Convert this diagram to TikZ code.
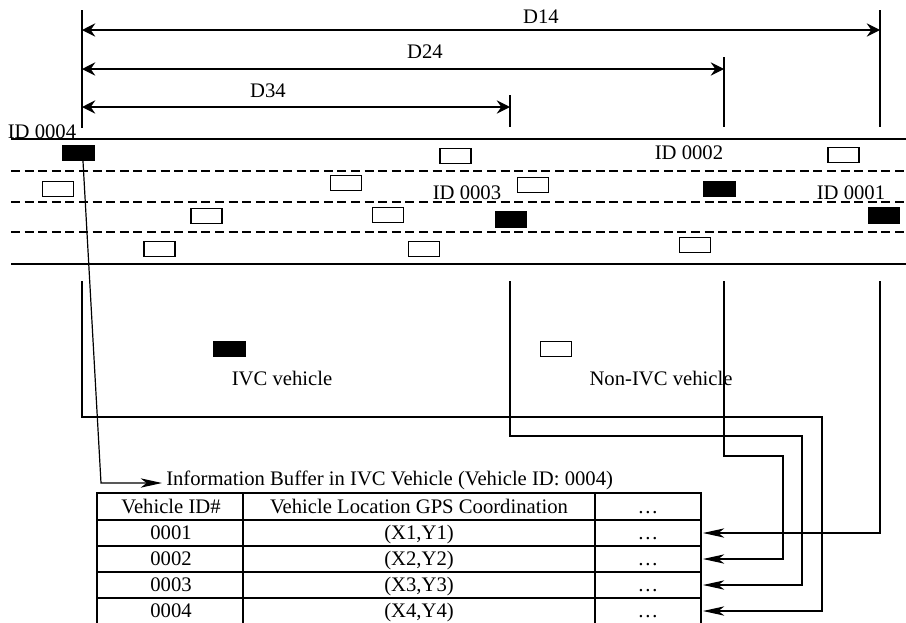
\documentclass[tikz,border=0pt]{standalone}
\usepackage{fontspec}
\setmainfont{Liberation Serif}
\usetikzlibrary{arrows.meta,calc}
\begin{document}
\begin{tikzpicture}[x=0.75pt,y=-0.75pt,
  every node/.style={font=\fontsize{15.5}{18}\selectfont,inner sep=0pt},
  txt/.style={anchor=base},
  ivc/.style={draw=black,fill=black,line width=0.8pt,minimum width=23.5pt,minimum height=11.5pt},
  nonivc/.style={draw=black,fill=white,line width=1.1pt,minimum width=23pt,minimum height=11pt},
  road/.style={line width=1.1pt},
  lane/.style={line width=1.9pt,dash pattern=on 6.8pt off 3.4pt},
  dimline/.style={line width=0.9pt},
  dimarrow/.style={line width=0.9pt,{Stealth[length=10pt,width=10pt,inset=3.5pt]}-{Stealth[length=10pt,width=10pt,inset=3.5pt]}},
  routearrow/.style={line width=0.9pt,-{Stealth[length=16pt,width=7pt,inset=4.5pt]}},
  tab/.style={line width=1.5pt}
]
\useasboundingbox (0,0) rectangle (906,622);

% ---------- dimension lines ----------
\coordinate (L0) at (82,10);
\coordinate (L1) at (82,128);
\coordinate (R1t) at (880,10);
\coordinate (R1b) at (880,127);
\coordinate (R2t) at (724,57);
\coordinate (R2b) at (724,127);
\coordinate (R3t) at (510,95);
\coordinate (R3b) at (510,127);
\draw[dimline] (L0) -- (L1);
\draw[dimline] (R1t) -- (R1b);
\draw[dimline] (R2t) -- (R2b);
\draw[dimline] (R3t) -- (R3b);
\coordinate (a14l) at (82,30);  \coordinate (a14r) at (880,30);
\coordinate (a24l) at (82,69);  \coordinate (a24r) at (724,69);
\coordinate (a34l) at (82,107); \coordinate (a34r) at (510,107);
\draw[dimarrow] (a14l) -- (a14r);
\draw[dimarrow] (a24l) -- (a24r);
\draw[dimarrow] (a34l) -- (a34r);
\node[txt] (d14) at (541,23) {D14};
\node[txt] (d24) at (425,58) {D24};
\node[txt] (d34) at (268,97) {D34};

% ---------- road ----------
\coordinate (rt0) at (11,139);  \coordinate (rt1) at (906,139);
\coordinate (rb0) at (11,264);  \coordinate (rb1) at (906,264);
\coordinate (l10) at (11,171);  \coordinate (l11) at (906,171);
\coordinate (l20) at (11,202);  \coordinate (l21) at (906,202);
\coordinate (l30) at (11,232);  \coordinate (l31) at (906,232);
\draw[road] (rt0) -- (rt1);
\draw[road] (rb0) -- (rb1);
\draw[lane] (l10) -- (l11);
\draw[lane] (l20) -- (l21);
\draw[lane] (l30) -- (l31);

% ---------- vehicles ----------
\node[ivc] (c4) at (78.5,153) {};
\node[ivc] (c3) at (511,219.5) {};
\node[ivc] (c2) at (719.5,189) {};
\node[ivc] (c1) at (884,215.5) {};
\node[nonivc] (w1) at (58,189) {};
\node[nonivc] (w2) at (206.5,216) {};
\node[nonivc] (w3) at (159.5,249) {};
\node[nonivc] (w4) at (346,183) {};
\node[nonivc] (w5) at (388,215) {};
\node[nonivc] (w6) at (424,249) {};
\node[nonivc] (w7) at (455.5,156) {};
\node[nonivc] (w8) at (533,185) {};
\node[nonivc] (w9) at (695,245) {};
\node[nonivc] (w10) at (843.5,155) {};

\node[txt] (id4) at (42,138) {ID 0004};
\node[txt] (id2) at (689,159) {ID 0002};
\node[txt] (id3) at (467,199) {ID 0003};
\node[txt] (id1) at (851,199) {ID 0001};

% ---------- legend ----------
\node[ivc] (legivc) at (229.5,349) {};
\node[nonivc] (legnon) at (556,349) {};
\node[txt] (legivct) at (282,385) {IVC vehicle};
\node[txt] (legnont) at (661,385) {Non-IVC vehicle};

% ---------- table ----------
\draw[tab] (97,624) -- (97,493) -- (701,493) -- (701,624);
\draw[tab] (243,493) -- (243,624);
\draw[tab] (595,493) -- (595,624);
\draw[tab] (97,520) -- (701,520);
\draw[tab] (97,546) -- (701,546);
\draw[tab] (97,572) -- (701,572);
\draw[tab] (97,598) -- (701,598);

\node[txt,anchor=base west] (title) at (166,485) {Information Buffer in IVC Vehicle (Vehicle ID: 0004)};
\node[txt] (h1) at (171,513) {Vehicle ID\#};
\node[txt] (h2) at (419,513) {Vehicle Location GPS Coordination};
\node[txt] (h3) at (648,513) {\ldots};
\node[txt] (v1) at (171,539) {0001};
\node[txt] (g1) at (419,539) {(X1,Y1)};
\node[txt] (e1) at (648,539) {\ldots};
\node[txt] (v2) at (171,565) {0002};
\node[txt] (g2) at (419,565) {(X2,Y2)};
\node[txt] (e2) at (648,565) {\ldots};
\node[txt] (v3) at (171,591) {0003};
\node[txt] (g3) at (419,591) {(X3,Y3)};
\node[txt] (e3) at (648,591) {\ldots};
\node[txt] (v4) at (171,617) {0004};
\node[txt] (g4) at (419,617) {(X4,Y4)};
\node[txt] (e4) at (648,617) {\ldots};

% ---------- connectors ----------
\coordinate (bufin) at (162,483);
\coordinate (bend0) at (101,483);
\draw[routearrow] ($(c4.south)+(4.5,0)$) -- (bend0) -- (bufin);

\coordinate (s4) at (82,281);
\coordinate (s3) at (510,281);
\coordinate (s2) at (724,281);
\coordinate (s1) at (880,281);
\coordinate (t1) at (703,533);
\coordinate (t2) at (703,559);
\coordinate (t3) at (703,585);
\coordinate (t4) at (703,611);
\draw[routearrow] (s1) -- (880,533) -- (t1);
\draw[routearrow] (s2) -- (724,456) -- (783,456) -- (783,559) -- (t2);
\draw[routearrow] (s3) -- (510,436) -- (802,436) -- (802,585) -- (t3);
\draw[routearrow] (s4) -- (82,417) -- (822,417) -- (822,611) -- (t4);
\end{tikzpicture}
\end{document}
